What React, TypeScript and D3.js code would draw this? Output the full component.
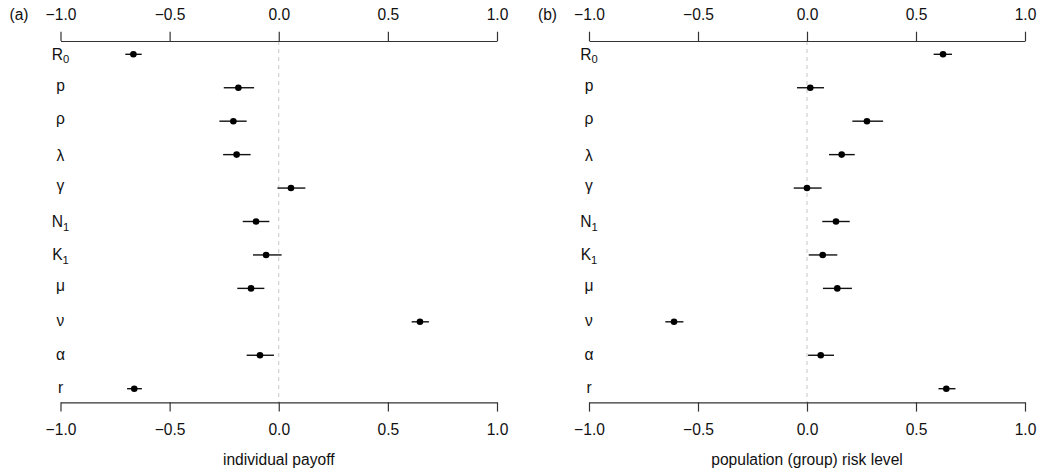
import React, { useEffect, useRef } from "react";
import * as d3 from "d3";

// Parameters (row labels, top to bottom)
const params = ["R0", "p", "ρ", "λ", "γ", "N1", "K1", "μ", "ν", "α", "r"];

// Panel (a): individual payoff
const payoffMean = [-0.666, -0.185, -0.208, -0.193, 0.056, -0.104, -0.058, -0.127, 0.647, -0.086, -0.662];
const payoffLow = [-0.703, -0.252, -0.272, -0.255, -0.006, -0.165, -0.118, -0.190, 0.609, -0.147, -0.695];
const payoffHigh = [-0.628, -0.113, -0.147, -0.129, 0.122, -0.043, 0.013, -0.066, 0.688, -0.022, -0.627];

// Panel (b): population (group) risk level
const riskMean = [0.624, 0.015, 0.275, 0.159, 0.0, 0.133, 0.072, 0.139, -0.610, 0.063, 0.639];
const riskLow = [0.581, -0.046, 0.208, 0.101, -0.061, 0.070, 0.008, 0.073, -0.650, 0.005, 0.603];
const riskHigh = [0.665, 0.078, 0.349, 0.219, 0.067, 0.196, 0.139, 0.206, -0.567, 0.124, 0.681];

const xTicks = [-1.0, -0.5, 0.0, 0.5, 1.0];

const panels = [
  { tag: "(a)", title: "individual payoff", mean: payoffMean, low: payoffLow, high: payoffHigh },
  { tag: "(b)", title: "population (group) risk level", mean: riskMean, low: riskLow, high: riskHigh },
];

const W = 1044;
const H = 476;
const FONT = "'Liberation Sans', Arial, Helvetica, sans-serif";
const FS = 15.6;

function labelDy(lbl: string): number {
  if (/[A-Z]/.test(lbl)) return 5.5;
  if (/[λ]/.test(lbl)) return 6.2;
  if (/[pρμγ]/.test(lbl)) return 2.8;
  return 4.5;
}

export default function App() {
  const ref = useRef<SVGSVGElement | null>(null);

  useEffect(() => {
    const svg = d3.select(ref.current);
    svg.selectAll("*").remove();

    const ranges: [number, number][] = [
      [60.5, 497],
      [589, 1025],
    ];
    const yTop = 41;
    const yBot = 402.3;
    const y = d3
      .scalePoint<string>()
      .domain(params)
      .range([54.3, 388.7]);

    panels.forEach((pn, pi) => {
      const x = d3.scaleLinear().domain([-1, 1]).range(ranges[pi]);
      const g = svg.append("g");

      // zero reference line
      g.append("line")
        .attr("x1", x(0))
        .attr("x2", x(0))
        .attr("y1", yTop)
        .attr("y2", yBot)
        .attr("stroke", "#c8c8c8")
        .attr("stroke-width", 1)
        .attr("stroke-dasharray", "4,4");

      // axes
      const fmt = d3.format(".1f");
      const top = g
        .append("g")
        .attr("transform", `translate(0,${yTop})`)
        .call(d3.axisTop(x).tickValues(xTicks).tickFormat((d: any) => fmt(d)).tickSizeOuter(0).tickSizeInner(9.3).tickPadding(12));
      const bot = g
        .append("g")
        .attr("transform", `translate(0,${yBot})`)
        .call(d3.axisBottom(x).tickValues(xTicks).tickFormat((d: any) => fmt(d)).tickSizeOuter(0).tickSizeInner(9.3).tickPadding(12));
      [top, bot].forEach((a) => {
        a.attr("font-family", FONT).attr("font-size", FS);
        a.select(".domain").attr("stroke", "#333").attr("stroke-width", 1.2);
        a.selectAll(".tick line").attr("stroke", "#333").attr("stroke-width", 1.2);
        a.selectAll(".tick text").attr("fill", "#111");
      });

      // panel tag
      g.append("text")
        .attr("x", x(-1) - 51)
        .attr("y", 19.5)
        .attr("font-family", FONT)
        .attr("font-size", FS)
        .attr("fill", "#111")
        .text(pn.tag);

      // axis title
      g.append("text")
        .attr("x", x(0))
        .attr("y", 465)
        .attr("text-anchor", "middle")
        .attr("font-family", FONT)
        .attr("font-size", FS)
        .attr("fill", "#111")
        .text(pn.title);

      // row labels
      params.forEach((p) => {
        const t = g
          .append("text")
          .attr("x", x(-1))
          .attr("y", (y(p) as number) + labelDy(p))
          .attr("text-anchor", "middle")
          .attr("font-family", FONT)
          .attr("font-size", FS)
          .attr("fill", "#111");
        const m = p.match(/^([A-Z])(\d)$/);
        if (m) {
          t.append("tspan").text(m[1]);
          t.append("tspan").attr("font-size", FS * 0.72).attr("dy", 3.5).text(m[2]);
        } else {
          t.text(p);
        }
      });

      // error bars
      g.selectAll("line.err")
        .data(params)
        .enter()
        .append("line")
        .attr("class", "err")
        .attr("x1", (_d, i) => x(pn.low[i]))
        .attr("x2", (_d, i) => x(pn.high[i]))
        .attr("y1", (d) => y(d) as number)
        .attr("y2", (d) => y(d) as number)
        .attr("stroke", "#111")
        .attr("stroke-width", 1.4);

      // points
      g.selectAll("circle.pt")
        .data(params)
        .enter()
        .append("circle")
        .attr("class", "pt")
        .attr("cx", (_d, i) => x(pn.mean[i]))
        .attr("cy", (d) => y(d) as number)
        .attr("r", 3.3)
        .attr("fill", "#000");
    });
  }, []);

  return (
    <svg
      ref={ref}
      width={W}
      height={H}
      style={{ position: "absolute", left: 0, top: 0, background: "#fff" }}
    />
  );
}
